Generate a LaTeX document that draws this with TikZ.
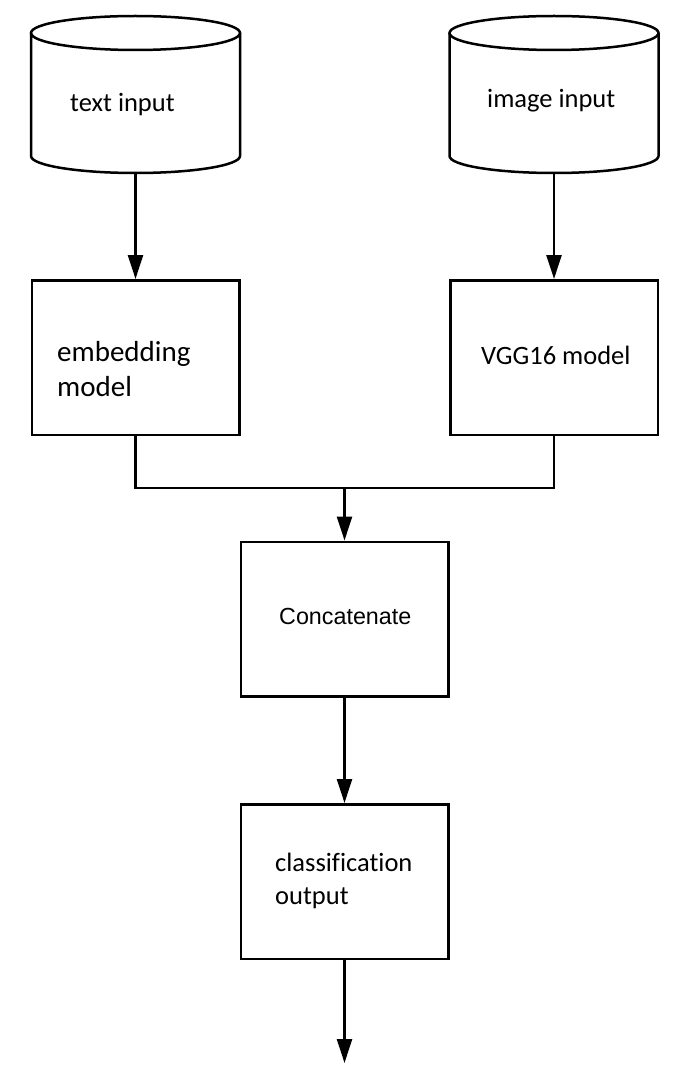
\documentclass[tikz,border=0pt]{standalone}
\usepackage{fontspec}
\setmainfont{Carlito}[Ligatures=NoCommon]
\newfontfamily\arialfont{Liberation Sans}
\usetikzlibrary{arrows.meta}
\begin{document}
\begin{tikzpicture}[x=1pt,y=-1pt,
  stepbox/.style={draw, line width=2.5pt, minimum width=207.5pt, minimum height=154.5pt, inner sep=0pt},
  cylbox/.style={minimum width=209pt, minimum height=157pt, inner sep=0pt},
  conn/.style={line width=2.5pt, -{Triangle[length=24pt,width=15pt]}},
  plain/.style={line width=2.5pt},
  lbl/.style={font=\fontsize{26.5}{35}\selectfont, inner sep=0pt, align=left},
  albl/.style={font=\arialfont\fontsize{23.3}{28}\selectfont, inner sep=0pt}]
\useasboundingbox (0,0) rectangle (697,1067);
% cylinders
\node[cylbox] (ti) at (135.5,94.5) {};
\node[cylbox] (ii) at (554,94.5) {};
\foreach \c in {135.5,554}{
  \draw[plain] (\c-104.5,33) -- (\c-104.5,156) arc[start angle=180, end angle=0, x radius=104.5, y radius=17] -- (\c+104.5,33);
  \draw[plain] (\c,33) ellipse[x radius=104.5, y radius=17];
}
\node[lbl, anchor=base west] (tit) at (70,112) {text input};
\node[lbl, anchor=base west] (iit) at (487,108) {image input};
% boxes
\node[stepbox] (emb) at (135.5,357.5) {};
\node[stepbox] (vgg) at (554,357.5) {};
\node[stepbox] (cat) at (344.5,619) {};
\node[stepbox] (cls) at (344.5,881.5) {};
\node[lbl, anchor=north west, font=\fontsize{29}{35}\selectfont] (embt) at (57,341) {embedding\\model};
\node[lbl, anchor=base west] (vggt) at (481,364) {VGG16 model};
\node[albl, anchor=base west] (catt) at (279,624) {Concatenate};
\node[lbl, anchor=north west, font=\fontsize{26.5}{33}\selectfont] (clst) at (275,853) {classification\\output};
% connectors
\coordinate (m) at (344.5,488);
\coordinate (fin) at (344.5,1063);
\draw[conn] (ti.south) -- (emb.north);
\draw[conn] (ii.south) -- (vgg.north);
\draw[plain] (emb.south) -- (emb.south |- m) -- (vgg.south |- m) -- (vgg.south);
\draw[conn] (m) -- (cat.north);
\draw[conn] (cat.south) -- (cls.north);
\draw[conn] (cls.south) -- (fin);
\end{tikzpicture}
\end{document}
